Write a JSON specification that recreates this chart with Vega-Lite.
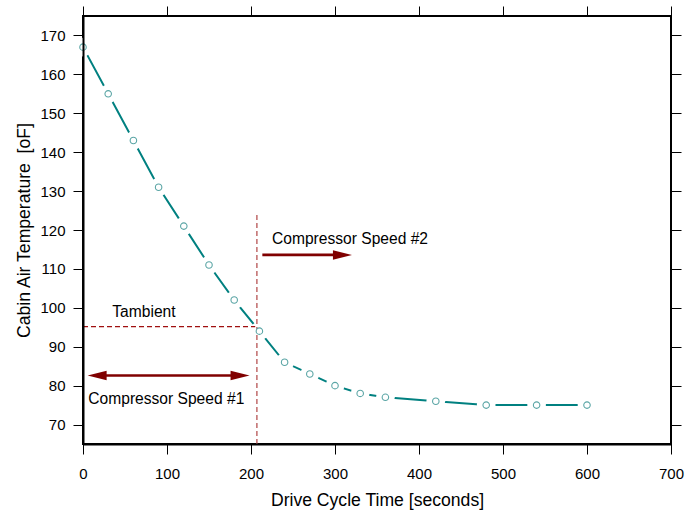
{
  "$schema": "https://vega.github.io/schema/vega-lite/v6.json",
  "width": 588,
  "height": 428,
  "autosize": {"type": "none"},
  "padding": {"left": 83, "top": 16, "right": 15, "bottom": 68},
  "background": "white",
  "config": {
    "view": {"stroke": "black", "strokeWidth": 2},
    "font": "Liberation Sans"
  },
  "datasets": {
    "temps": [
      {"t": 0, "temp": 167}, {"t": 30, "temp": 155}, {"t": 60, "temp": 143},
      {"t": 90, "temp": 131}, {"t": 120, "temp": 121}, {"t": 150, "temp": 111},
      {"t": 180, "temp": 102}, {"t": 210, "temp": 94}, {"t": 240, "temp": 86},
      {"t": 270, "temp": 83}, {"t": 300, "temp": 80}, {"t": 330, "temp": 78},
      {"t": 360, "temp": 77}, {"t": 420, "temp": 76}, {"t": 480, "temp": 75},
      {"t": 540, "temp": 75}, {"t": 600, "temp": 75}
    ],
    "vlines": [{"x": 207, "y": 65, "y2": 124.4}],
    "hlines": [{"x": 0, "x2": 205, "y": 95.15}],
    "shafts": [{"x": 20, "x2": 184, "y": 82.6}, {"x": 213.5, "x2": 300, "y": 113.6}],
    "headsLeft": [{"x": 5.5, "y": 82.6}],
    "headsRight": [{"x": 198.3, "y": 82.6}, {"x": 320.2, "y": 113.6}],
    "labels": [
      {"x": 34.9, "y": 98.8, "text": "Tambient"},
      {"x": 6.3, "y": 76.6, "text": "Compressor Speed #1"},
      {"x": 225, "y": 117.8, "text": "Compressor Speed #2"}
    ]
  },
  "resolve": {"axis": {"x": "independent", "y": "independent"}},
  "layer": [
    {
      "data": {"name": "temps"},
      "mark": {"type": "line", "color": "#008080", "strokeWidth": 2, "interpolate": "linear"},
      "encoding": {
        "x": {
          "field": "t", "type": "quantitative",
          "scale": {"domain": [0, 700], "nice": false, "zero": false},
          "axis": {
            "orient": "bottom", "title": "Drive Cycle Time [seconds]",
            "values": [0, 100, 200, 300, 400, 500, 600, 700],
            "grid": false, "tickSize": 10, "tickColor": "black", "tickWidth": 1,
            "domainColor": "black", "domainWidth": 2,
            "labelFontSize": 15, "labelColor": "black", "labelPadding": 12,
            "labelFlush": false, "labelOverlap": false,
            "titleFontSize": 17.6, "titleFontWeight": "normal", "titleColor": "black",
            "titlePadding": 10, "zindex": 1
          }
        },
        "y": {
          "field": "temp", "type": "quantitative",
          "scale": {"domain": [65, 175], "nice": false, "zero": false},
          "axis": {
            "orient": "left", "title": "Cabin Air Temperature \u00a0[oF]",
            "values": [70, 80, 90, 100, 110, 120, 130, 140, 150, 160, 170],
            "grid": false, "tickSize": 10, "tickColor": "black", "tickWidth": 1,
            "domainColor": "black", "domainWidth": 2,
            "labelFontSize": 15, "labelColor": "black", "labelPadding": 8,
            "labelOverlap": false,
            "titleFontSize": 17.6, "titleFontWeight": "normal", "titleColor": "black",
            "titlePadding": 6, "zindex": 1
          }
        }
      }
    },
    {
      "data": {"name": "temps"},
      "mark": {"type": "point", "shape": "circle", "filled": true, "color": "white", "size": 350, "opacity": 1},
      "encoding": {
        "x": {
          "field": "t", "type": "quantitative",
          "scale": {"domain": [0, 700], "nice": false, "zero": false},
          "axis": {
            "orient": "top", "title": null, "labels": false, "domain": false,
            "values": [0, 100, 200, 300, 400, 500, 600, 700],
            "grid": false, "tickSize": 10, "tickColor": "black", "tickWidth": 1, "zindex": 1
          }
        },
        "y": {
          "field": "temp", "type": "quantitative",
          "scale": {"domain": [65, 175], "nice": false, "zero": false},
          "axis": {
            "orient": "right", "title": null, "labels": false, "domain": false,
            "values": [70, 80, 90, 100, 110, 120, 130, 140, 150, 160, 170],
            "grid": false, "tickSize": 10, "tickColor": "black", "tickWidth": 1, "zindex": 1
          }
        }
      }
    },
    {
      "data": {"name": "vlines"},
      "mark": {"type": "rule", "color": "#c06a6a", "strokeWidth": 1.5, "strokeDash": [5, 3]},
      "encoding": {
        "x": {"field": "x", "type": "quantitative", "scale": {"domain": [0, 700], "nice": false, "zero": false}, "axis": null},
        "y": {"field": "y", "type": "quantitative", "scale": {"domain": [65, 175], "nice": false, "zero": false}, "axis": null},
        "y2": {"field": "y2"}
      }
    },
    {
      "data": {"name": "hlines"},
      "mark": {"type": "rule", "color": "#a01010", "strokeWidth": 1.2, "strokeDash": [5, 3]},
      "encoding": {
        "x": {"field": "x", "type": "quantitative", "scale": {"domain": [0, 700], "nice": false, "zero": false}, "axis": null},
        "x2": {"field": "x2"},
        "y": {"field": "y", "type": "quantitative", "scale": {"domain": [65, 175], "nice": false, "zero": false}, "axis": null}
      }
    },
    {
      "data": {"name": "shafts"},
      "mark": {"type": "rule", "color": "#800000", "strokeWidth": 2.6},
      "encoding": {
        "x": {"field": "x", "type": "quantitative", "scale": {"domain": [0, 700], "nice": false, "zero": false}, "axis": null},
        "x2": {"field": "x2"},
        "y": {"field": "y", "type": "quantitative", "scale": {"domain": [65, 175], "nice": false, "zero": false}, "axis": null}
      }
    },
    {
      "data": {"name": "headsLeft"},
      "mark": {"type": "point", "shape": "M0,0L2,-0.5L2,0.5Z", "filled": true, "color": "#800000", "size": 361, "opacity": 1},
      "encoding": {
        "x": {"field": "x", "type": "quantitative", "scale": {"domain": [0, 700], "nice": false, "zero": false}, "axis": null},
        "y": {"field": "y", "type": "quantitative", "scale": {"domain": [65, 175], "nice": false, "zero": false}, "axis": null}
      }
    },
    {
      "data": {"name": "headsRight"},
      "mark": {"type": "point", "shape": "M0,0L-2,-0.5L-2,0.5Z", "filled": true, "color": "#800000", "size": 361, "opacity": 1},
      "encoding": {
        "x": {"field": "x", "type": "quantitative", "scale": {"domain": [0, 700], "nice": false, "zero": false}, "axis": null},
        "y": {"field": "y", "type": "quantitative", "scale": {"domain": [65, 175], "nice": false, "zero": false}, "axis": null}
      }
    },
    {
      "data": {"name": "temps"},
      "mark": {"type": "point", "shape": "circle", "filled": false, "fill": "white", "fillOpacity": 1, "stroke": "#5aa5a5", "strokeWidth": 1.1, "size": 42, "opacity": 1},
      "encoding": {
        "x": {"field": "t", "type": "quantitative", "scale": {"domain": [0, 700], "nice": false, "zero": false}, "axis": null},
        "y": {"field": "temp", "type": "quantitative", "scale": {"domain": [65, 175], "nice": false, "zero": false}, "axis": null}
      }
    },
    {
      "data": {"name": "labels"},
      "mark": {"type": "text", "align": "left", "baseline": "middle", "fontSize": 15.6, "color": "black", "font": "Liberation Sans"},
      "encoding": {
        "x": {"field": "x", "type": "quantitative", "scale": {"domain": [0, 700], "nice": false, "zero": false}, "axis": null},
        "y": {"field": "y", "type": "quantitative", "scale": {"domain": [65, 175], "nice": false, "zero": false}, "axis": null},
        "text": {"field": "text"}
      }
    }
  ]
}
